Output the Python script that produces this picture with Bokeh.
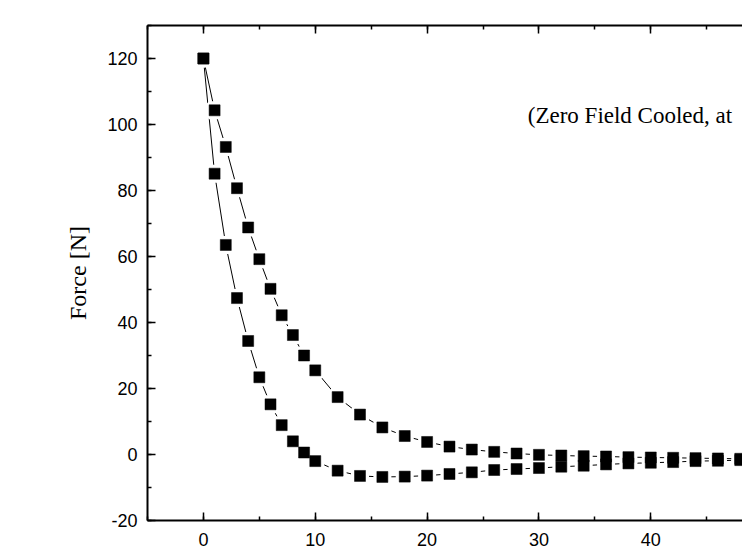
from bokeh.plotting import figure
from bokeh.models import (LinearAxis, SingleIntervalTicker, Range1d, Label,
                          ColumnDataSource, PrintfTickFormatter)
from bokeh.embed import file_html
from bokeh.resources import INLINE

# Data
dist_fast = [0, 1, 2, 3, 4, 5, 6, 7, 8, 9, 10, 12, 14, 16, 18, 20, 22, 24, 26, 28,
             30, 32, 34, 36, 38, 40, 42, 44, 46, 48]
force_fast = [120, 85.1, 63.5, 47.4, 34.4, 23.4, 15.2, 8.9, 4.0, 0.6, -2.0,
              -4.9, -6.5, -6.8, -6.7, -6.4, -5.9, -5.4, -4.7, -4.4,
              -4.1, -3.7, -3.4, -3.0, -2.7, -2.5, -2.3, -2.0, -1.9, -1.7]
dist_slow = [0, 1, 2, 3, 4, 5, 6, 7, 8, 9, 10, 12, 14, 16, 18, 20, 22, 24, 26, 28,
             30, 32, 34, 36, 38, 40, 42, 44, 46, 48]
force_slow = [120, 104.3, 93.2, 80.7, 68.8, 59.2, 50.2, 42.2, 36.2, 30.0, 25.5,
              17.4, 12.1, 8.2, 5.6, 3.8, 2.4, 1.5, 0.8, 0.3,
              -0.1, -0.3, -0.5, -0.6, -0.8, -0.9, -1.0, -1.1, -1.2, -1.3]

y_label = "Force [N]"
note_text = "(Zero Field Cooled, at"
note_x, note_y = 29.0, 102.7

X_START, X_END = -5, 48.2
Y_START, Y_END = -20, 130

p = figure(width=742, height=560, output_backend="svg", toolbar_location=None,
           x_range=Range1d(X_START, X_END), y_range=Range1d(Y_START, Y_END),
           x_axis_location=None, y_axis_location=None,
           min_border_left=147, min_border_right=0, min_border_top=25, min_border_bottom=40)
p.outline_line_color = None
p.xgrid.visible = False
p.ygrid.visible = False
p.background_fill_color = "white"
p.border_fill_color = "white"

def style_axis(ax, labels=True):
    ax.axis_line_width = 2
    ax.axis_line_color = "black"
    ax.major_tick_in = 8
    ax.major_tick_out = 0
    ax.minor_tick_in = 4
    ax.minor_tick_out = 0
    ax.major_tick_line_width = 1.5
    ax.minor_tick_line_width = 1.5
    ax.major_tick_line_color = "black"
    ax.minor_tick_line_color = "black"
    ax.formatter = PrintfTickFormatter(format="%d")
    ax.major_label_text_font = "Liberation Sans"
    ax.major_label_text_font_size = "18px"
    ax.major_label_text_color = "black"
    if not labels:
        ax.major_label_text_font_size = "0px"
        ax.major_label_text_alpha = 0

xb = LinearAxis(ticker=SingleIntervalTicker(interval=10, num_minor_ticks=2))
style_axis(xb)
xb.major_label_standoff = 12
p.add_layout(xb, "below")

xt = LinearAxis(ticker=SingleIntervalTicker(interval=10, num_minor_ticks=2))
style_axis(xt, labels=False)
p.add_layout(xt, "above")

yl = LinearAxis(ticker=SingleIntervalTicker(interval=20, num_minor_ticks=2))
style_axis(yl)
yl.major_label_standoff = 10
yl.axis_label = y_label
yl.axis_label_text_font = "Liberation Serif"
yl.axis_label_text_font_size = "24px"
yl.axis_label_text_font_style = "normal"
yl.axis_label_text_color = "black"
yl.axis_label_standoff = 13
p.add_layout(yl, "left")

for xs, ys in ((dist_fast, force_fast), (dist_slow, force_slow)):
    src = ColumnDataSource(dict(x=xs, y=ys))
    p.line("x", "y", source=src, line_color="black", line_width=1)
    p.scatter("x", "y", source=src, marker="square", size=11, fill_color="white",
              line_color="white", line_width=7)
for xs, ys in ((dist_fast, force_fast), (dist_slow, force_slow)):
    src = ColumnDataSource(dict(x=xs, y=ys))
    p.scatter("x", "y", source=src, marker="square", size=11, fill_color="black",
              line_color="black", line_width=0.5)

p.add_layout(Label(x=note_x, y=note_y, text=note_text, text_font="Liberation Serif",
                   text_font_size="23px", text_baseline="middle", text_align="left",
                   text_color="black"))

open("out.html", "w").write(file_html(p, INLINE))
